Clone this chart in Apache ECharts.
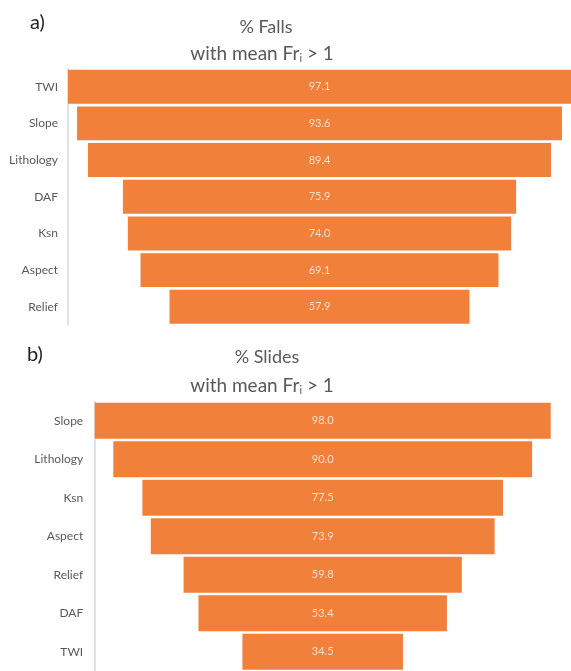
<!DOCTYPE html>
<html>
<head>
<meta charset="utf-8">
<script src="https://cdn.jsdelivr.net/npm/echarts@6/dist/echarts.min.js"></script>
<style>
html,body{margin:0;padding:0;background:#fff;}
#main{width:571px;height:671px;}
</style>
</head>
<body>
<div id="main"></div>
<script>
const fallsCategories = ['TWI', 'Slope', 'Lithology', 'DAF', 'Ksn', 'Aspect', 'Relief'];
const fallsValues = [97.1, 93.6, 89.4, 75.9, 74.0, 69.1, 57.9];
const slidesCategories = ['Slope', 'Lithology', 'Ksn', 'Aspect', 'Relief', 'DAF', 'TWI'];
const slidesValues = [98.0, 90.0, 77.5, 73.9, 59.8, 53.4, 34.5];

const barColor = '#F0803A';
const textGray = '#595959';
const font = 'Lato';

function pads(vals) {
  const m = Math.max.apply(null, vals);
  return vals.map(v => +((m - v) / 2).toFixed(3));
}

const chart = echarts.init(document.getElementById('main'), null, {renderer: 'canvas'});

const titleRich = {
  a: {fontFamily: font, fontSize: 19, color: textGray, fontWeight: 'normal'},
  s: {fontFamily: font, fontSize: 11, color: textGray, fontWeight: 'normal', padding: [10, 0, 0, 0]}
};

const option = {
  animation: false,
  backgroundColor: '#fff',
  title: [
    {text: 'a)', left: 30, top: 13, padding: 0, textStyle: {fontFamily: font, fontSize: 20, color: '#222', fontWeight: 'normal'}},
    {text: '% Falls', left: 266, top: 18, padding: 0, textAlign: 'center', textStyle: {fontFamily: font, fontSize: 18, color: textGray, fontWeight: 'normal'}},
    {text: '{a|with mean Fr}{s|i}{a| > 1}', left: 262, top: 43, padding: 0, textAlign: 'center', textStyle: {rich: titleRich}},
    {text: 'b)', left: 27, top: 345, padding: 0, textStyle: {fontFamily: font, fontSize: 20, color: '#222', fontWeight: 'normal'}},
    {text: '% Slides', left: 267, top: 348, padding: 0, textAlign: 'center', textStyle: {fontFamily: font, fontSize: 18, color: textGray, fontWeight: 'normal'}},
    {text: '{a|with mean Fr}{s|i}{a| > 1}', left: 262, top: 375, padding: 0, textAlign: 'center', textStyle: {rich: titleRich}}
  ],
  grid: [
    {left: 68, top: 68.4, width: 505, height: 256.7, containLabel: false},
    {left: 94.7, top: 401.4, width: 456, height: 271.3, containLabel: false}
  ],
  xAxis: [
    {gridIndex: 0, type: 'value', min: 0, max: Math.max.apply(null, fallsValues), show: false},
    {gridIndex: 1, type: 'value', min: 0, max: Math.max.apply(null, slidesValues), show: false}
  ],
  yAxis: [
    {gridIndex: 0, type: 'category', data: fallsCategories, inverse: true,
     axisLine: {show: true, lineStyle: {color: '#d5dae2', width: 1.5}},
     axisTick: {show: false},
     axisLabel: {fontFamily: font, fontSize: 12, color: textGray, margin: 10}},
    {gridIndex: 1, type: 'category', data: slidesCategories, inverse: true, offset: 1.5,
     axisLine: {show: true, lineStyle: {color: '#d5dae2', width: 1.5}},
     axisTick: {show: false},
     axisLabel: {fontFamily: font, fontSize: 12, color: textGray, margin: 10}}
  ],
  series: [
    {type: 'bar', xAxisIndex: 0, yAxisIndex: 0, stack: 'a', data: pads(fallsValues),
     itemStyle: {color: 'transparent'}, barCategoryGap: '7.5%', silent: true},
    {type: 'bar', xAxisIndex: 0, yAxisIndex: 0, stack: 'a', data: fallsValues,
     itemStyle: {color: barColor}, barCategoryGap: '7.5%',
     label: {show: true, position: 'inside', formatter: p => p.value.toFixed(1),
       fontFamily: font, fontSize: 11, color: 'rgba(255,240,230,0.85)'}},
    {type: 'bar', xAxisIndex: 1, yAxisIndex: 1, stack: 'b', data: pads(slidesValues),
     itemStyle: {color: 'transparent'}, barCategoryGap: '6.5%', silent: true},
    {type: 'bar', xAxisIndex: 1, yAxisIndex: 1, stack: 'b', data: slidesValues,
     itemStyle: {color: barColor}, barCategoryGap: '6.5%',
     label: {show: true, position: 'inside', formatter: p => p.value.toFixed(1),
       fontFamily: font, fontSize: 11, color: 'rgba(255,240,230,0.85)'}}
  ]
};
chart.setOption(option);
</script>
</body>
</html>
